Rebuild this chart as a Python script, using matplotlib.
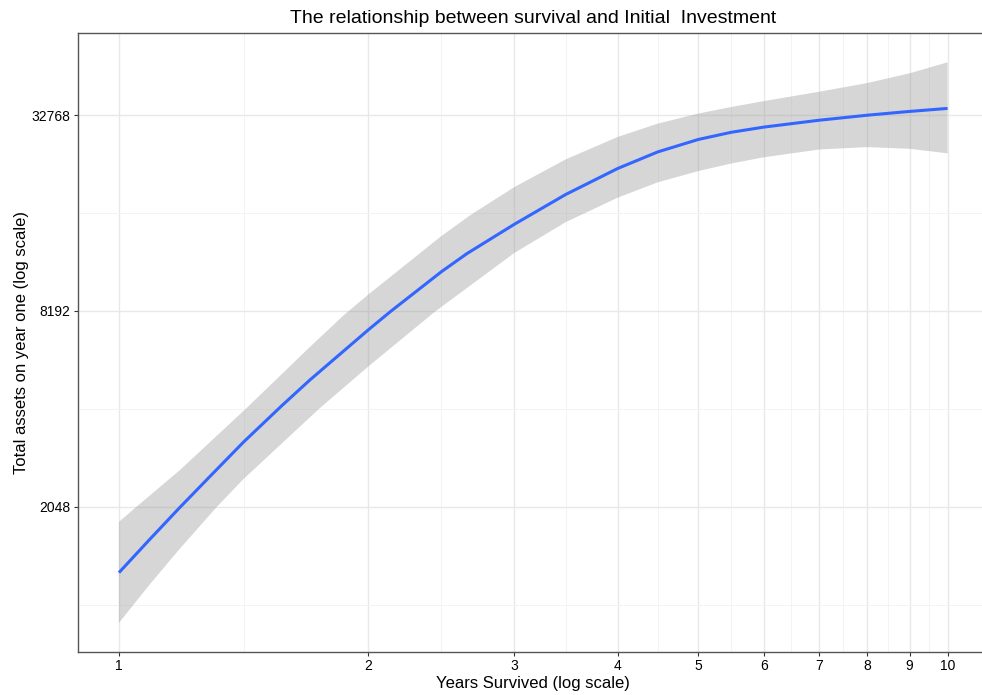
import numpy as np
import matplotlib
matplotlib.use("Agg")
import matplotlib.pyplot as plt
from matplotlib.ticker import FixedLocator, NullFormatter

plt.rcParams['font.family'] = ['Liberation Sans', 'DejaVu Sans']

# smoothed fit (years survived vs assets)
fit_x = [1, 1.09, 1.185, 1.288, 1.414, 1.571, 1.7, 2, 2.127, 2.45, 2.63,
         3, 3.46, 4, 4.47, 5, 5.48, 6, 7, 8, 9, 10]
fit_y = [1287, 1631, 2044, 2543, 3243, 4184, 5029, 7172, 8163, 10817,
         12294, 15125, 18674, 22459, 25244, 27554, 28997, 30081, 31585,
         32723, 33613, 34335]

# confidence band edges
upper_x = [1, 1.046, 1.185, 1.422, 1.7, 1.869, 2, 2.45, 2.658, 3, 3.46,
           4, 4.47, 5, 5.48, 6, 7, 8, 9, 10]
upper_y = [1842, 2034, 2661, 4096, 6351, 7963, 9206, 13923, 16167, 19677,
           23935, 28063, 30835, 33096, 34676, 36153, 38637, 41075, 44014,
           47569]
lower_x = [1, 1.09, 1.185, 1.313, 1.414, 1.75, 2, 2.407, 3, 3.46, 4, 4.47,
           5, 5.48, 6, 7, 8, 9, 10]
lower_y = [902, 1186, 1527, 2051, 2497, 4134, 5536, 8157, 12347, 15353,
           18270, 20357, 22033, 23254, 24296, 25677, 26115, 25803, 24991]

x_breaks = [1, 2, 3, 4, 5, 6, 7, 8, 9, 10]
y_breaks = [2048, 8192, 32768]
y_minor = [1024, 4096, 16384]

fig = plt.figure(figsize=(9.82, 6.95), dpi=100)
ax = fig.add_axes([77.5 / 982, 43 / 695, 911.5 / 982, 619 / 695])

ax.set_xscale('log')
ax.set_yscale('log', base=2)

band_x = np.concatenate([upper_x, lower_x[::-1]])
band_y = np.concatenate([upper_y, lower_y[::-1]])
ax.fill(band_x, band_y, color='#999999', alpha=0.4, linewidth=0, zorder=2)
ax.plot(fit_x, fit_y, color='#3366FF', linewidth=2.2, zorder=3,
        solid_capstyle='butt', solid_joinstyle='round')

ax.set_xlim(10 ** -0.05, 10 ** 1.05)
ax.set_ylim(2 ** 9.52, 2 ** 15.837)

# ggplot-style minor breaks halfway (in log space) between the majors
x_minor = [np.sqrt(a * b) for a, b in zip(x_breaks[:-1], x_breaks[1:])]
ax.xaxis.set_major_locator(FixedLocator(x_breaks))
ax.xaxis.set_minor_locator(FixedLocator(x_minor))
ax.set_xticklabels([str(v) for v in x_breaks])
ax.xaxis.set_minor_formatter(NullFormatter())
ax.yaxis.set_major_locator(FixedLocator(y_breaks))
ax.yaxis.set_minor_locator(FixedLocator(y_minor))
ax.set_yticklabels([str(v) for v in y_breaks])
ax.yaxis.set_minor_formatter(NullFormatter())

ax.set_axisbelow(True)
ax.grid(which='major', color='#e8e8e8', linewidth=1.0)
ax.grid(which='minor', color='#f3f3f3', linewidth=0.7)

for sp in ax.spines.values():
    sp.set_color('#555555')
    sp.set_linewidth(1.0)

ax.tick_params(which='major', length=3, width=0.8, color='#333333',
               labelsize=10, labelcolor='black', pad=2)
ax.tick_params(which='minor', length=0)

ax.set_xlabel('Years Survived (log scale)', fontsize=12, labelpad=2)
ax.set_ylabel('Total assets on year one (log scale)', fontsize=12, labelpad=2)
ax.set_title('The relationship between survival and Initial  Investment',
             fontsize=14, pad=7)

fig.savefig('out.png', dpi=100)
